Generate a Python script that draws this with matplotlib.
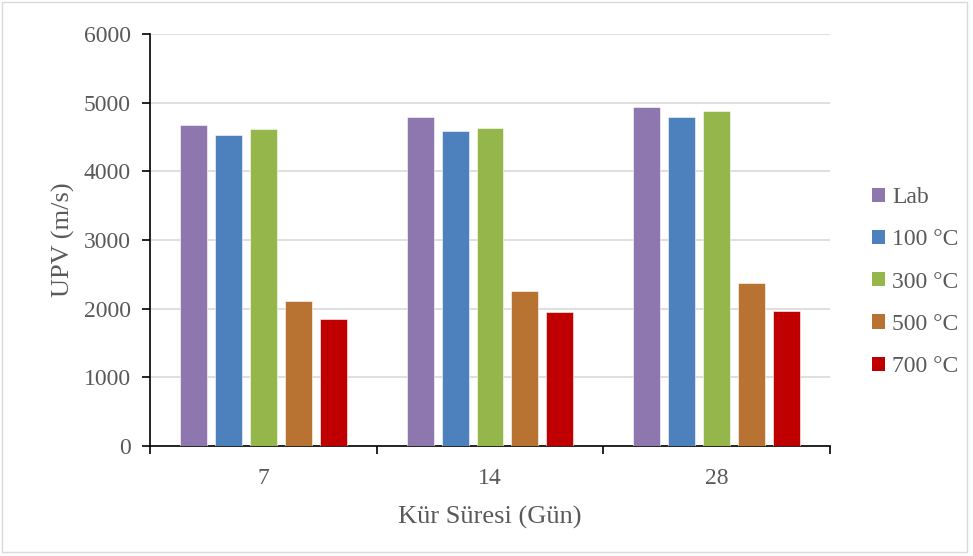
import matplotlib
matplotlib.use("Agg")
import matplotlib.pyplot as plt
from matplotlib.patches import Patch, Rectangle
import numpy as np

# ── Data ────────────────────────────────────────────────────────────────────
days = ["7", "14", "28"]
series = ["Lab", "100 °C", "300 °C", "500 °C", "700 °C"]
lab   = [4675, 4787, 4933]
t100  = [4525, 4587, 4787]
t300  = [4612, 4627, 4883]
t500  = [2114, 2259, 2367]
t700  = [1843, 1945, 1959]
values = [lab, t100, t300, t500, t700]
colors = ["#8E76AE", "#4D81BE", "#95B64A", "#B87232", "#C00000"]

plt.rcParams.update({
    "font.family": ["Liberation Serif", "DejaVu Serif"],
    "font.size": 17,
})
TXT = "#595959"

fig = plt.figure(figsize=(9.73, 5.56), dpi=100)
ax = fig.add_axes([150 / 973, 110 / 556, 680 / 973, 412 / 556])

x = np.arange(len(days))
bw = 0.119
step = 0.154
for i, (vals, c) in enumerate(zip(values, colors)):
    ax.bar(x + (i - 2) * step, vals, width=bw, color=c,
           edgecolor="white", linewidth=0.4, zorder=3)

ax.set_xlim(-0.5, 2.5)
ax.set_ylim(0, 6000)
ax.set_yticks(range(0, 6001, 1000))
ax.yaxis.grid(True, color="#D9D9D9", linewidth=1.2, zorder=0)

ax.set_xticks(x)
ax.set_xticklabels(days)
ax.set_xticks([-0.5, 0.5, 1.5, 2.5], minor=True)
ax.tick_params(axis="x", which="major", length=0, pad=16, colors=TXT)
ax.tick_params(axis="x", which="minor", length=6, width=1.2, color="black")
ax.tick_params(axis="y", length=6, width=1.2, color="black",
               labelcolor=TXT, pad=8)

for s in ("top", "right"):
    ax.spines[s].set_visible(False)
for s in ("left", "bottom"):
    ax.spines[s].set_linewidth(1.2)
    ax.spines[s].set_color("black")

ax.set_xlabel("Kür Süresi (Gün)", color=TXT, fontsize=19, labelpad=12)
ax.set_ylabel("UPV (m/s)", color=TXT, fontsize=19, labelpad=6)

handles = [Patch(facecolor=c, edgecolor="none") for c in colors]
leg = fig.legend(handles, series, loc="center left",
                 bbox_to_anchor=(872 / 973, 274 / 556), frameon=False,
                 borderaxespad=0, borderpad=0,
                 handlelength=0.55, handleheight=0.55, handletextpad=0.3,
                 labelspacing=0.9)
for t in leg.get_texts():
    t.set_color(TXT)

fig.patches.append(Rectangle((2 / 973, 4 / 556), 965 / 973, 550 / 556,
                             transform=fig.transFigure, fill=False,
                             edgecolor="#D9D9D9", linewidth=1.0))

fig.savefig("out.png", dpi=100, facecolor="white")
